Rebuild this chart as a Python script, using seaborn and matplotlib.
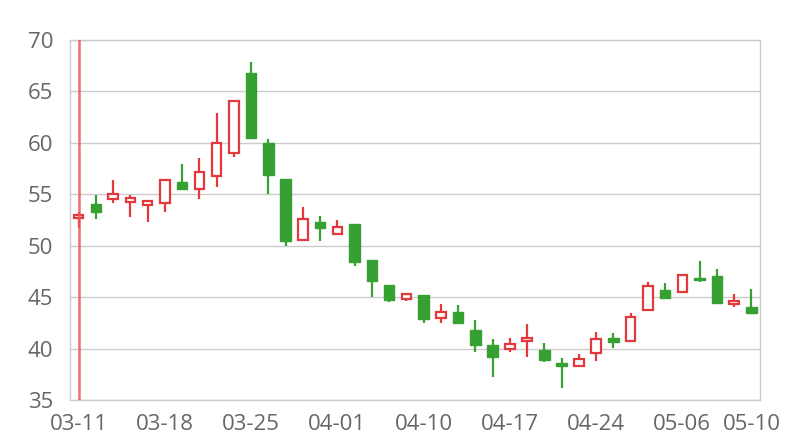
import numpy as np
import matplotlib
matplotlib.use("Agg")
import matplotlib.pyplot as plt
import seaborn as sns

# daily OHLC values
opens = [52.7, 54.1, 54.5, 54.25, 54.0, 54.2, 56.2, 55.5, 56.8, 59.0,
         66.8, 60.0, 56.5, 50.6, 52.3, 51.1, 52.1, 48.6, 46.2, 44.8,
         45.25, 43.0, 43.55, 41.8, 40.3, 40.0, 40.75, 39.9, 38.55, 38.35,
         39.55, 41.0, 40.7, 43.75, 45.7, 45.5, 46.9, 47.05, 44.3, 44.05]
closes = [53.0, 53.3, 55.0, 54.6, 54.3, 56.4, 55.5, 57.2, 60.0, 64.1,
          60.5, 56.9, 50.5, 52.6, 51.7, 51.85, 48.45, 46.6, 44.7, 45.3,
          42.85, 43.55, 42.45, 40.3, 39.2, 40.4, 41.0, 38.9, 38.3, 39.0,
          40.95, 40.6, 43.05, 46.1, 44.95, 47.15, 46.65, 44.4, 44.65, 43.5]
lows = [51.7, 52.6, 54.2, 52.8, 52.3, 53.3, 55.5, 54.5, 55.7, 58.6,
        60.5, 55.0, 50.0, 50.6, 50.5, 51.1, 48.0, 45.05, 44.5, 44.6,
        42.5, 42.5, 42.35, 39.7, 37.2, 39.65, 39.15, 38.7, 36.15, 38.35,
        38.8, 40.1, 40.7, 43.75, 44.8, 45.5, 46.5, 44.4, 44.0, 43.4]
highs = [53.3, 54.9, 56.4, 54.9, 54.3, 56.4, 57.9, 58.5, 62.9, 64.2,
         67.9, 60.4, 56.5, 53.8, 52.9, 52.5, 52.1, 48.6, 46.2, 45.35,
         45.25, 44.3, 44.2, 42.8, 40.9, 41.0, 42.4, 40.5, 39.05, 39.45,
         41.6, 41.5, 43.5, 46.5, 46.4, 47.25, 48.5, 47.75, 45.35, 45.75]

tick_labels = ["03-11", "03-18", "03-25", "04-01", "04-10",
               "04-17", "04-24", "05-06", "05-10"]
tick_index = [0, 5, 10, 15, 20, 25, 30, 35, 39]

up_color = "#e3393c"
down_color = "#36a033"

sns.set_theme(style="whitegrid")
plt.rcParams["font.family"] = ["Open Sans", "DejaVu Sans"]

fig = plt.figure(figsize=(8, 4.4), dpi=100)
ax = fig.add_axes([0.0875, 0.0909, 0.8625, 0.8182])

x = np.arange(len(opens))
o = np.array(opens)
c = np.array(closes)
rising = c >= o
colors = np.where(rising, up_color, down_color)

# wicks
ax.vlines(x, lows, highs, colors=colors, linewidth=1.6, zorder=2)

# bodies: hollow for rising, filled for falling
bottom = np.minimum(o, c)
height = np.maximum(np.abs(c - o), 0.15)
ax.bar(x[rising], height[rising], bottom=bottom[rising], width=0.55,
       facecolor="white", edgecolor=up_color, linewidth=1.6, zorder=3)
ax.bar(x[~rising], height[~rising], bottom=bottom[~rising], width=0.6,
       facecolor=down_color, edgecolor=down_color, linewidth=1.0, zorder=3)

# marker line on the first day
ax.axvline(0, color="#ee5555", linewidth=1.8, alpha=0.85, zorder=4)

ax.set_xlim(-0.5, 39.5)
ax.set_ylim(35, 70)
ax.set_yticks(range(35, 71, 5))
ax.set_xticks(tick_index)
ax.set_xticklabels(tick_labels)
ax.grid(axis="x", visible=False)
ax.grid(axis="y", color="#cccccc", linewidth=1.0)
for s in ax.spines.values():
    s.set_color("#cccccc")
    s.set_linewidth(1.0)
ax.tick_params(axis="both", length=0, labelsize=16, colors="#666666")
ax.tick_params(axis="y", pad=12)
ax.tick_params(axis="x", pad=10)

fig.savefig("out.png", dpi=100)
